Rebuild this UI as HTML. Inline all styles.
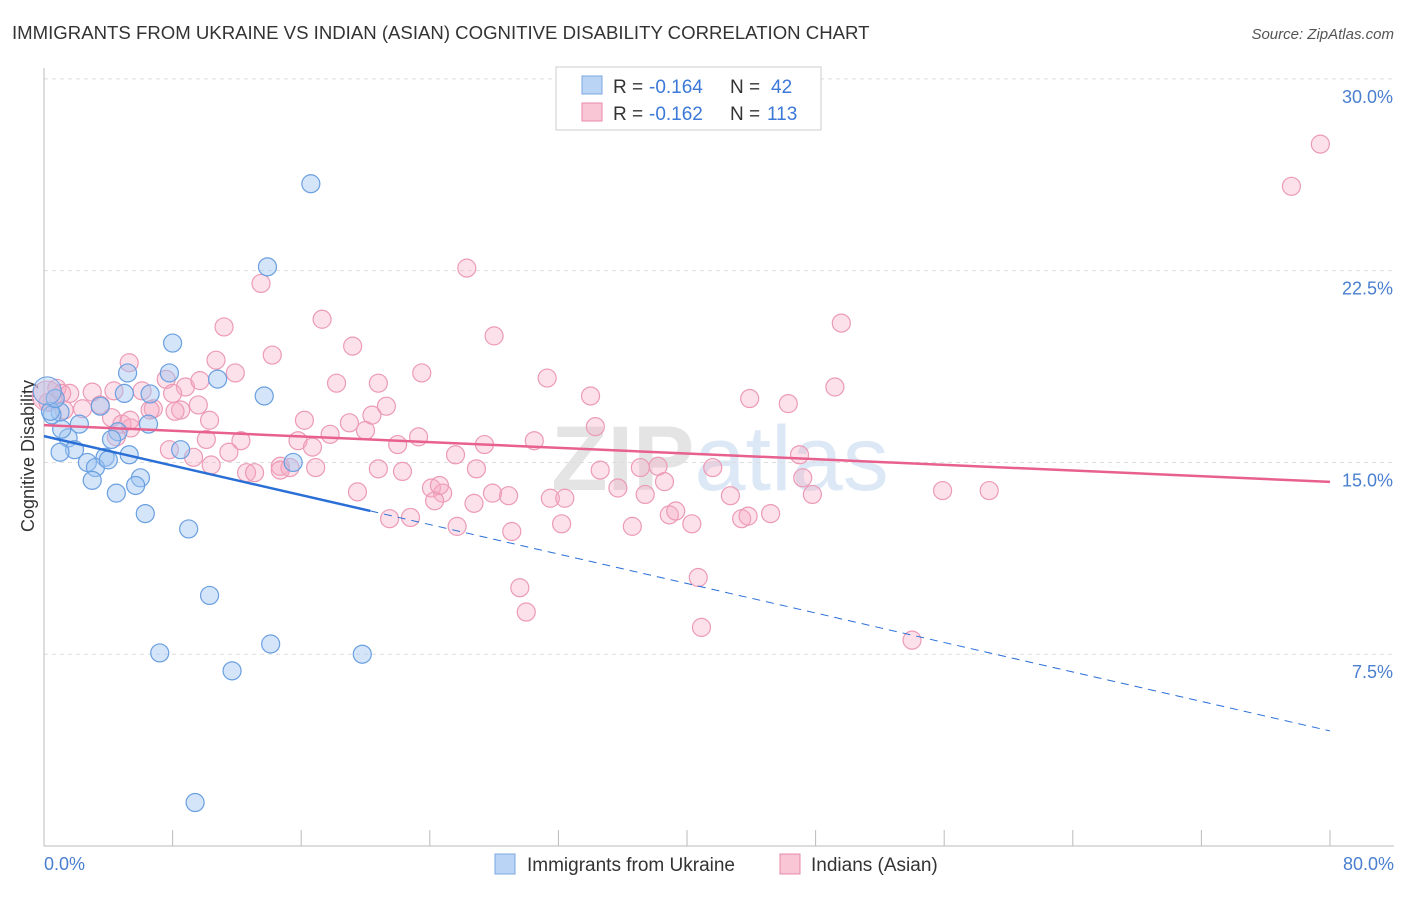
<!DOCTYPE html>
<html><head><meta charset="utf-8"><style>
body{margin:0;background:#fff;font-family:"Liberation Sans",sans-serif;}
svg text{font-family:"Liberation Sans",sans-serif;}
</style></head><body>
<svg id="chart" width="1406" height="892" viewBox="0 0 1406 892" xmlns="http://www.w3.org/2000/svg">
<text x="12" y="39" font-size="18.6" fill="#333">IMMIGRANTS FROM UKRAINE VS INDIAN (ASIAN) COGNITIVE DISABILITY CORRELATION CHART</text>
<text x="1394" y="39" font-size="15" fill="#555" text-anchor="end" font-style="italic">Source: ZipAtlas.com</text>
<text x="720" y="490" font-size="92" fill="#e4e4e4" text-anchor="middle" font-weight="bold">ZIP<tspan fill="#dce8f5" font-weight="normal">atlas</tspan></text>
<g id="grid"></g>
<line x1="44" y1="68" x2="44" y2="846" stroke="#bbb"/>
<line x1="44" y1="846" x2="1394" y2="846" stroke="#bbb"/>
<g id="xticks"></g>
<text transform="translate(34,456) rotate(-90)" font-size="18" fill="#333" text-anchor="middle">Cognitive Disability</text>
<text x="44" y="870" font-size="18" fill="#4a7fd0">0.0%</text>
<text x="1394" y="870" font-size="18" fill="#4a7fd0" text-anchor="end">80.0%</text>
<g id="pink"></g>
<g id="blue"></g>
<g id="trends"></g>
<g>
<rect x="556" y="67" width="265" height="63" fill="#fff" stroke="#ccc"/>
<rect x="582" y="76" width="20" height="18" fill="#b9d4f5" stroke="#7aa8e0"/>
<rect x="582" y="103" width="20" height="18" fill="#f9c6d6" stroke="#e88aaa"/>
<text x="613" y="93" font-size="19" fill="#333">R =</text>
<text x="649" y="93" font-size="19" fill="#3b78d8">-0.164</text>
<text x="730" y="93" font-size="19" fill="#333">N =</text>
<text x="771" y="93" font-size="19" fill="#3b78d8">42</text>
<text x="613" y="120" font-size="19" fill="#333">R =</text>
<text x="649" y="120" font-size="19" fill="#3b78d8">-0.162</text>
<text x="730" y="120" font-size="19" fill="#333">N =</text>
<text x="767" y="120" font-size="19" fill="#3b78d8">113</text>
</g>
<g>
<rect x="495" y="854" width="20" height="20" fill="#b9d4f5" stroke="#7aa8e0"/>
<text x="527" y="871" font-size="19" fill="#333">Immigrants from Ukraine</text>
<rect x="780" y="854" width="20" height="20" fill="#f9c6d6" stroke="#e88aaa"/>
<text x="811" y="871" font-size="19" fill="#333">Indians (Asian)</text>
</g>
</svg>
<script>
const yTicks=[7.5,15,22.5,30];
const yTickLabels=["7.5%","15.0%","22.5%","30.0%"];
const xTicks=[0,8,16,24,32,40,48,56,64,72,80];
const blueX=[16.6,13.9,8.0,5.2,7.8,10.8,13.7,6.6,5.0,3.5,1.0,0.5,2.2,6.5,4.6,1.5,4.2,1.9,1.0,8.5,5.3,3.8,2.7,3.2,15.5,6.0,3.0,5.7,4.5,6.3,9.0,10.3,7.2,14.1,19.8,11.7,9.4,0.4,1.1,0.7,4.0];
const blueY=[25.9,22.65,19.67,18.5,18.5,18.26,17.6,17.68,17.7,17.2,16.97,16.86,16.5,16.5,16.2,15.96,15.9,15.5,15.4,15.5,15.3,15.2,15.0,14.8,15.0,14.4,14.3,14.1,13.8,13.0,12.4,9.8,7.55,7.9,7.5,6.85,1.7,17.0,16.3,17.5,15.1];
const pinkX=[79.4,77.6,26.3,13.5,49.6,11.2,17.3,28.0,19.2,5.3,10.7,14.2,11.9,23.5,31.3,18.2,20.8,7.6,8.8,4.35,3.0,6.1,34.0,43.9,49.2,8.0,46.3,9.6,21.3,6.8,8.5,4.2,16.2,19.0,4.85,34.3,5.4,10.1,15.8,12.25,17.8,20.0,22.0,23.3,27.4,30.5,16.7,25.6,11.5,9.3,47.0,10.4,12.6,13.1,14.7,15.3,16.9,20.8,22.3,26.9,37.1,38.2,41.6,24.1,24.8,19.5,24.3,26.75,27.9,28.9,31.5,32.4,35.7,37.4,38.6,42.7,47.2,47.8,55.9,58.8,21.5,22.8,25.7,29.1,32.2,36.6,38.9,39.3,40.3,43.4,43.8,45.2,29.6,30.0,40.7,40.9,54.0,0.8,1.6,2.4,1.1,0.25,3.5,1.25,6.6,9.7,20.4,24.6,34.6,14.7,7.8,5.35,4.5,8.15,10.3];
const pinkY=[27.45,25.8,22.6,22.0,20.45,20.3,20.6,19.95,19.55,18.9,19.0,19.2,18.5,18.5,18.3,18.1,18.1,18.25,17.95,17.8,17.75,17.8,17.6,17.5,17.95,17.7,17.3,17.25,17.2,17.1,17.05,16.75,16.65,16.55,16.5,16.4,16.35,15.9,15.85,15.85,16.1,16.25,15.7,16.0,15.7,15.85,15.6,15.3,15.4,15.2,15.3,14.9,14.6,14.6,14.85,14.8,14.8,14.75,14.65,14.75,14.8,14.85,14.8,14.0,13.8,13.85,13.5,13.4,13.8,13.7,13.6,13.6,14.0,13.75,14.25,13.7,14.4,13.75,13.9,13.9,12.8,12.85,12.5,12.3,12.6,12.5,12.95,13.1,12.6,12.8,12.9,13.0,10.1,9.15,10.5,8.55,8.05,17.9,17.7,17.1,17.7,17.35,17.25,17.05,17.05,18.2,16.85,14.1,14.7,14.7,15.5,16.65,16.0,17.0,16.65];
const blueTrend=[16.03,4.5];
const pinkTrend=[16.46,14.24];
const NS="http://www.w3.org/2000/svg";
function xs(v){return 44+v*16.075;}
function ys(v){return 846-v*25.57;}
function mk(tag,attrs,parent){const e=document.createElementNS(NS,tag);for(const k in attrs)e.setAttribute(k,attrs[k]);parent.appendChild(e);return e;}
const grid=document.getElementById('grid');
yTicks.forEach((t,i)=>{
 const l=mk('line',{x1:44,x2:1394,y1:ys(t),y2:ys(t),stroke:'#ddd','stroke-dasharray':'4,4'},grid);
 
 
 const tx=mk('text',{x:1393,y:ys(t)+24,'font-size':18,fill:'#4a7fd0','text-anchor':'end'},grid);
 tx.textContent=yTickLabels[i];
 
 
});
const xt=document.getElementById('xticks');
xTicks.forEach(t=>{
 const l=mk('line',{x1:xs(t),x2:xs(t),y1:830,y2:846,stroke:'#bbb'},xt);
 
 
});
const pg=document.getElementById('pink');
pinkX.forEach((x,i)=>{
 const c=mk('circle',{cx:xs(x),cy:ys(pinkY[i]),r:9,fill:'rgba(246,170,196,0.35)',stroke:'#ec9ab6','stroke-width':1.2},pg);
 
 
});
const bg=document.getElementById('blue');
blueX.forEach((x,i)=>{
 const c=mk('circle',{cx:xs(x),cy:ys(blueY[i]),r:9,fill:'rgba(160,198,242,0.45)',stroke:'#6a9fe0','stroke-width':1.2},bg);
 
 
});
const big1=mk('circle',{cx:xs(0.2),cy:ys(17.6),r:15,fill:'rgba(246,170,196,0.45)',stroke:'#ec9ab6'},pg);


const big2=mk('circle',{cx:xs(0.2),cy:ys(17.8),r:14,fill:'rgba(160,198,242,0.4)',stroke:'#6a9fe0'},bg);


const tg=document.getElementById('trends');
const bAt=x=>blueTrend[0]+(blueTrend[1]-blueTrend[0])*x/80;
const b1=mk('line',{x1:xs(0),y1:ys(bAt(0)),x2:xs(20.3),y2:ys(bAt(20.3)),stroke:'#2a6fd6','stroke-width':2.5},tg);


const b2=mk('line',{x1:xs(20.3),y1:ys(bAt(20.3)),x2:xs(80),y2:ys(bAt(80)),stroke:'#2a6fd6','stroke-width':1,'stroke-dasharray':'8,6'},tg);


const p1=mk('line',{x1:xs(0),y1:ys(pinkTrend[0]),x2:xs(80),y2:ys(pinkTrend[1]),stroke:'#e8608e','stroke-width':2.5},tg);


</script>
</body></html>
